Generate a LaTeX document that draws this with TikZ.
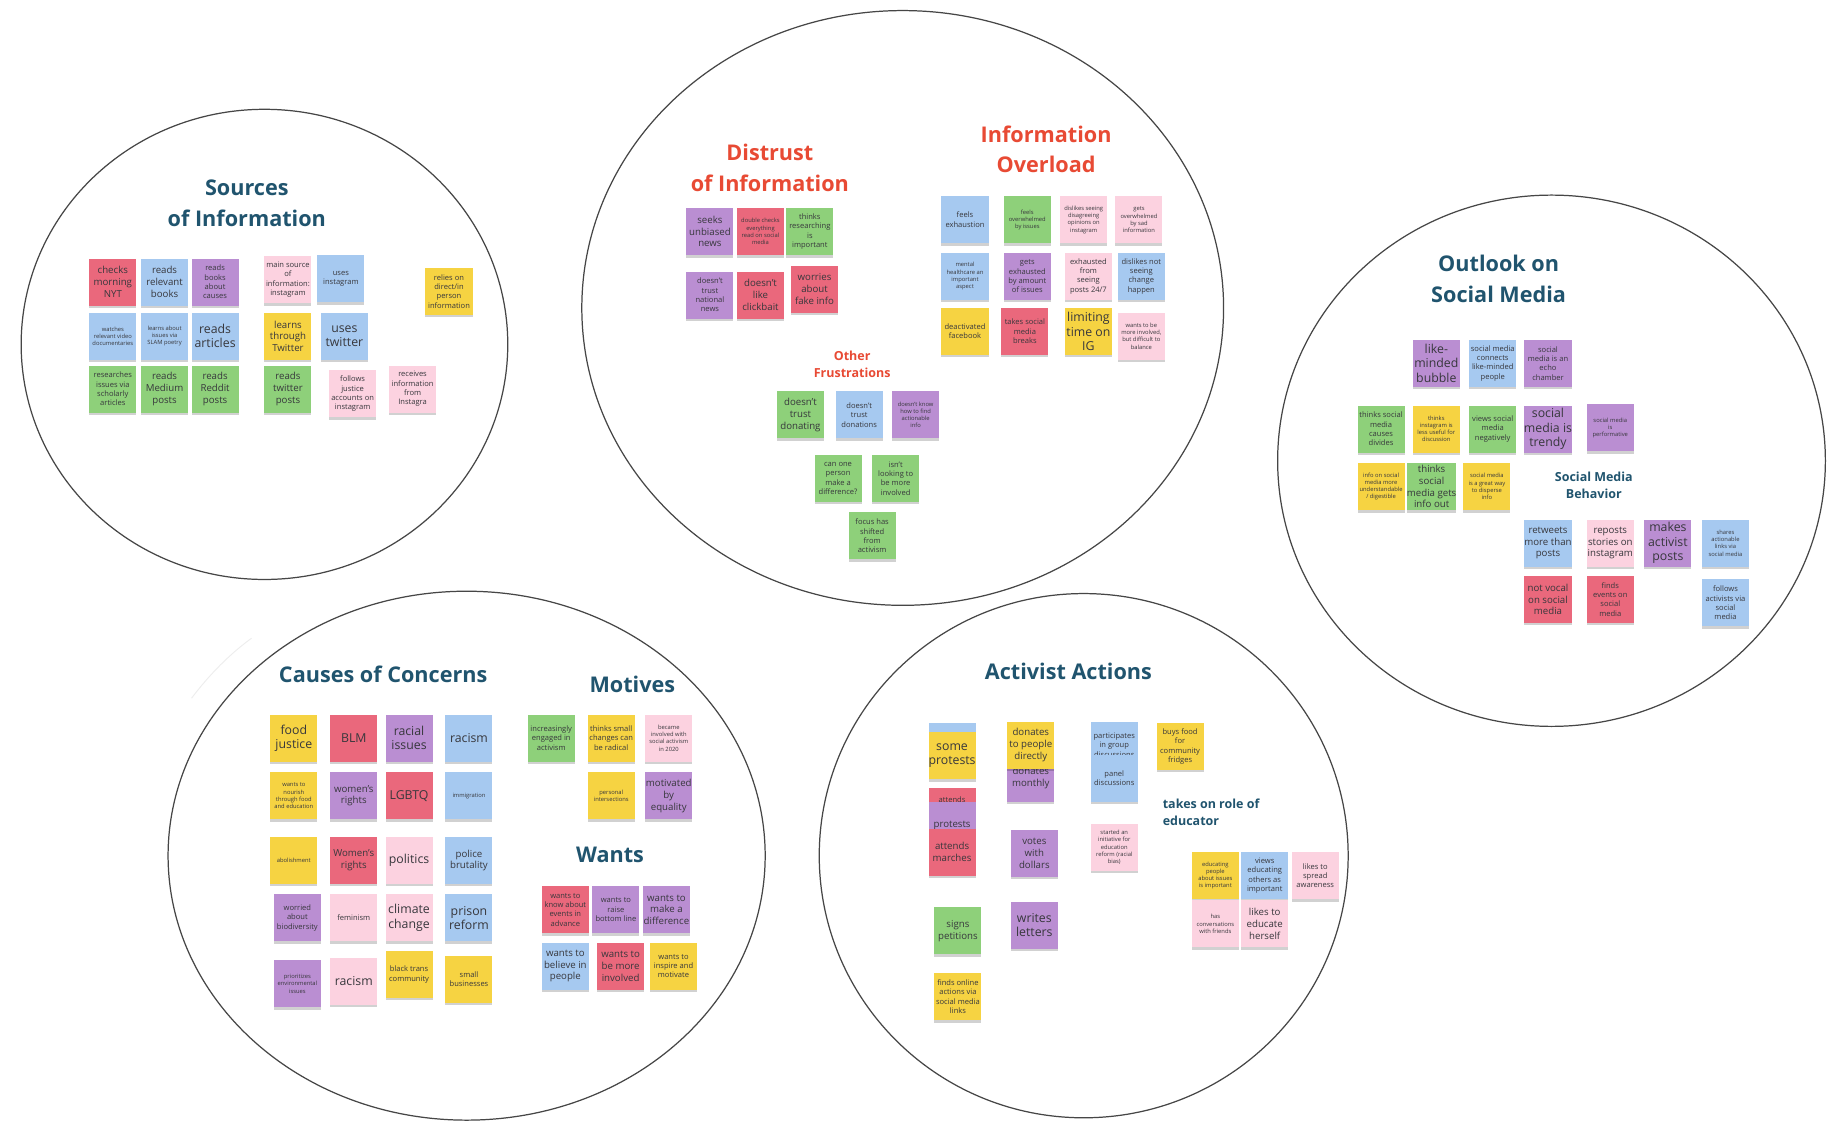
\documentclass[tikz,border=0pt]{standalone}
\usepackage{fontspec}
\setmainfont{Open Sans}
\usepackage{tikz}
\usetikzlibrary{positioning,shadows}
\definecolor{stickyred}{RGB}{234,104,124}
\definecolor{stickyblue}{RGB}{166,201,240}
\definecolor{stickypurple}{RGB}{186,142,210}
\definecolor{stickygreen}{RGB}{142,208,122}
\definecolor{stickyyellow}{RGB}{246,211,66}
\definecolor{stickypink}{RGB}{252,210,224}
\definecolor{notetext}{RGB}{55,55,60}
\definecolor{headblue}{RGB}{32,84,110}
\definecolor{headred}{RGB}{232,74,52}
\definecolor{ringgray}{RGB}{70,70,70}

\begin{document}
\begin{tikzpicture}[
    x=0.0235cm, y=-0.0235cm,
    note/.style={minimum size=0.94cm, inner sep=0pt, align=center, text=notetext,
        drop shadow={shadow xshift=0pt, shadow yshift=-1.4pt, opacity=0.18, fill=black}},
    nred/.style={note, fill=stickyred},
    nblue/.style={note, fill=stickyblue},
    npurple/.style={note, fill=stickypurple},
    ngreen/.style={note, fill=stickygreen},
    nyellow/.style={note, fill=stickyyellow},
    npink/.style={note, fill=stickypink},
    fL/.style={font=\fontsize{7}{8.2}\selectfont},
    fM/.style={font=\fontsize{5.5}{6.7}\selectfont},
    fS/.style={font=\fontsize{4.3}{5.3}\selectfont},
    fX/.style={font=\fontsize{3.3}{4.1}\selectfont},
    ring/.style={draw=ringgray, line width=0.7pt},
    head/.style={font=\bfseries\fontsize{12.3}{17.5}\selectfont, text=headblue, align=center},
    headred/.style={head, text=headred},
    subhead/.style={font=\bfseries\fontsize{7.1}{10}\selectfont, text=headblue, align=center},
    subred/.style={subhead, text=headred}
]
\fill[white] (0,0) rectangle (1568,970);
\useasboundingbox (0,0) rectangle (1568,970);

% clusters
\draw[ring] (225,293) ellipse [x radius=207, y radius=200];
\draw[ring] (768,262) ellipse [x radius=273, y radius=253];
\draw[ring] (1320,392) ellipse [x radius=233, y radius=226];
\draw[ring] (397,728) ellipse [x radius=254, y radius=225];
\draw[ring] (922,728) ellipse [x radius=225, y radius=223];
\draw[black!7, line width=0.5pt] (214,543) .. controls (196,556) and (178,574) .. (163,594);

% sources of information
\node[head] (srcT) at (210,173) {Sources\\of Information};
\node[nred,fM] (s1) at (96,240) {checks\\morning\\NYT};
\node[nblue,fM] (s2) at (140,240) {reads\\relevant\\books};
\node[npurple,fS] (s3) at (183,240) {reads\\books\\about\\causes};
\node[nblue,fX] (s4) at (96,286) {watches\\relevant video\\documentaries};
\node[nblue,fX] (s5) at (140,286) {learns about\\issues via\\SLAM poetry};
\node[nblue,fL] (s6) at (183,286) {reads\\articles};
\node[ngreen,fS] (s7) at (96,331) {researches\\issues via\\scholarly\\articles};
\node[ngreen,fM] (s8) at (140,331) {reads\\Medium\\posts};
\node[ngreen,fM] (s9) at (183,331) {reads\\Reddit\\posts};
\node[npink,fS] (s10) at (245,238) {main source\\of\\information:\\instagram};
\node[nblue,fS] (s11) at (290,237) {uses\\instagram};
\node[nyellow,fM] (s12) at (245,286) {learns\\through\\Twitter};
\node[nblue,fL] (s13) at (293,286) {uses\\twitter};
\node[ngreen,fM] (s14) at (245,331) {reads\\twitter\\posts};
\node[npink,fS] (s15) at (300,335) {follows\\justice\\accounts on\\instagram};
\node[npink,fS] (s16) at (351,331) {receives\\information\\from\\Instagra};
\node[nyellow,fS] (s17) at (382,248) {relies on\\direct/in\\person\\information};

% distrust of information
\node[headred] (dstT) at (655,143) {Distrust\\of Information};
\node[npurple,fM] (d1) at (604,197) {seeks\\unbiased\\news};
\node[nred,fX] (d2) at (647,197) {double checks\\everything\\read on social\\media};
\node[ngreen,fS] (d3) at (689,197) {thinks\\researching\\is\\important};
\node[npurple,fS] (d4) at (604,251) {doesn't\\trust\\national\\news};
\node[nred,fM] (d5) at (647,251) {doesn't\\like\\clickbait};
\node[nred,fM] (d6) at (693,246) {worries\\about\\fake info};

% other frustrations
\node[subred] (othT) at (725,310) {Other\\Frustrations};
\node[ngreen,fM] (o1) at (681,353) {doesn't\\trust\\donating};
\node[nblue,fS] (o2) at (731,353) {doesn't\\trust\\donations};
\node[npurple,fX] (o3) at (779,353) {doesn't know\\how to find\\actionable\\info};
\node[ngreen,fS] (o4) at (713,407) {can one\\person\\make a\\difference?};
\node[ngreen,fS] (o5) at (762,407) {isn't\\looking to\\be more\\involved};
\node[ngreen,fS] (o6) at (742,456) {focus has\\shifted\\from\\activism};

% information overload
\node[headred] (ovlT) at (890,127) {Information\\Overload};
\node[nblue,fS] (i1) at (821,187) {feels\\exhaustion};
\node[ngreen,fX] (i2) at (874,187) {feels\\overwhelmed\\by issues};
\node[npink,fX] (i3) at (922,187) {dislikes seeing\\disagreeing\\opinions on\\instagram};
\node[npink,fX] (i4) at (969,187) {gets\\overwhelmed\\by sad\\information};
\node[nblue,fX] (i5) at (821,235) {mental\\healthcare an\\important\\aspect};
\node[npurple,fS] (i6) at (874,235) {gets\\exhausted\\by amount\\of issues};
\node[npink,fS] (i7) at (926,235) {exhausted\\from\\seeing\\posts 24/7};
\node[nblue,fS] (i8) at (971,235) {dislikes not\\seeing\\change\\happen};
\node[nyellow,fS] (i9) at (821,282) {deactivated\\facebook};
\node[nred,fS] (i10) at (872,282) {takes social\\media\\breaks};
\node[nyellow,fL] (i11) at (926,282) {limiting\\time on\\IG};
\node[npink,fX] (i12) at (971,286) {wants to be\\more involved,\\but difficult to\\balance};

% outlook on social media
\node[head] (outT) at (1275,237) {Outlook on\\Social Media};
\node[npurple,fL] (u1) at (1222,309) {like-\\minded\\bubble};
\node[nblue,fS] (u2) at (1270,309) {social media\\connects\\like-minded\\people};
\node[npurple,fS] (u3) at (1317,309) {social\\media is an\\echo\\chamber};
\node[ngreen,fS] (u4) at (1175,365) {thinks social\\media\\causes\\divides};
\node[nyellow,fX] (u5) at (1222,365) {thinks\\instagram is\\less useful for\\discussion};
\node[ngreen,fS] (u6) at (1270,365) {views social\\media\\negatively};
\node[npurple,fL] (u7) at (1317,365) {social\\media is\\trendy};
\node[npurple,fX] (u8) at (1370,364) {social media\\is\\performative};
\node[nyellow,fX] (u9) at (1175,414) {info on social\\media more\\understandable\\/ digestible};
\node[ngreen,fM] (u10) at (1218,414) {thinks\\social\\media gets\\info out};
\node[nyellow,fX] (u11) at (1265,414) {social media\\is a great way\\to disperse\\info};

% social media behavior
\node[subhead] (behT) at (1356,413) {Social Media\\Behavior};
\node[nblue,fM] (b1) at (1317,462) {retweets\\more than\\posts};
\node[npink,fM] (b2) at (1370,462) {reposts\\stories on\\instagram};
\node[npurple,fL] (b3) at (1419,462) {makes\\activist\\posts};
\node[nblue,fX] (b4) at (1468,462) {shares\\actionable\\links via\\social media};
\node[nred,fM] (b5) at (1317,510) {not vocal\\on social\\media};
\node[nred,fS] (b6) at (1370,510) {finds\\events on\\social\\media};
\node[nblue,fS] (b7) at (1468,513) {follows\\activists via\\social\\media};

% causes of concerns
\node[head] (cauT) at (326,574) {Causes of Concerns};
\node[nyellow,fL] (c1) at (250,628) {food\\justice};
\node[nred,fL] (c2) at (301,628) {BLM};
\node[npurple,fL] (c3) at (348,628) {racial\\issues};
\node[nblue,fL] (c4) at (399,628) {racism};
\node[nyellow,fX] (c5) at (250,677) {wants to\\nourish\\through food\\and education};
\node[npurple,fM] (c6) at (301,677) {women's\\rights};
\node[nred,fL] (c7) at (348,677) {LGBTQ};
\node[nblue,fX] (c8) at (399,677) {immigration};
\node[nyellow,fX] (c9) at (250,732) {abolishment};
\node[nred,fM] (c10) at (301,732) {Women's\\rights};
\node[npink,fL] (c11) at (348,732) {politics};
\node[nblue,fM] (c12) at (399,732) {police\\brutality};
\node[npurple,fS] (c13) at (253,781) {worried\\about\\biodiversity};
\node[npink,fS] (c14) at (301,781) {feminism};
\node[npink,fL] (c15) at (348,781) {climate\\change};
\node[nblue,fL] (c16) at (399,781) {prison\\reform};
\node[npurple,fX] (c17) at (253,837) {prioritizes\\environmental\\issues};
\node[npink,fL] (c18) at (301,835) {racism};
\node[nyellow,fS] (c19) at (348,829) {black trans\\community};
\node[nyellow,fS] (c20) at (399,833) {small\\businesses};

% motives
\node[head] (motT) at (538,582) {Motives};
\node[ngreen,fS] (m1) at (469,628) {increasingly\\engaged in\\activism};
\node[nyellow,fS] (m2) at (520,628) {thinks small\\changes can\\be radical};
\node[npink,fX] (m3) at (569,628) {became\\involved with\\social activism\\in 2020};
\node[nyellow,fX] (m4) at (520,677) {personal\\intersections};
\node[npurple,fM] (m5) at (569,677) {motivated\\by\\equality};

% wants
\node[head] (wntT) at (519,727) {Wants};
\node[nred,fS] (w1) at (481,774) {wants to\\know about\\events in\\advance};
\node[npurple,fS] (w2) at (524,774) {wants to\\raise\\bottom line};
\node[npurple,fM] (w3) at (567,774) {wants to\\make a\\difference};
\node[nblue,fM] (w4) at (481,822) {wants to\\believe in\\people};
\node[nred,fM] (w5) at (528,822) {wants to\\be more\\involved};
\node[nyellow,fS] (w6) at (573,822) {wants to\\inspire and\\motivate};

% activist actions
\node[head] (actT) at (909,571) {Activist Actions};
\node[nblue] (a0) at (810,635) {};
\node[nyellow,fL] (a1) at (810,643) {some\\protests};
\node[npurple,fM] (a2) at (877,662) {donates\\monthly};
\node[nyellow,fM] (a3) at (877,634) {donates\\to people\\directly};
\node[nblue,fS] (a4) at (948,634) {participates\\in group\\discussions};
\node[nblue,fS] (a5) at (948,662) {panel\\discussions};
\node[nred] (a6) at (810,690) {};
\node[fS,text=notetext] (a6t) [below=2pt of a6.north] {attends};
\node[npurple,fM] (a7) at (810,702) {protests};
\node[nred,fM] (a8) at (810,725) {attends\\marches};
\node[npurple,fM] (a9) at (880,726) {votes\\with\\dollars};
\node[npink,fX] (a10) at (948,721) {started an\\initiative for\\education\\reform (racial\\bias)};
\node[ngreen,fM] (a11) at (815,792) {signs\\petitions};
\node[npurple,fL] (a12) at (880,787) {writes\\letters};
\node[nyellow,fS] (a13) at (815,848) {finds online\\actions via\\social media\\links};
\node[nyellow,fS] (a14) at (1004,635) {buys food\\for\\community\\fridges};

% educator
\node[subhead,align=left,anchor=west,inner sep=0pt] (eduT) at (989,691) {takes on role of\\educator};
\node[nyellow,fX] (e1) at (1034,745) {educating\\people\\about issues\\is important};
\node[nblue,fS] (e2) at (1076,745) {views\\educating\\others as\\important};
\node[npink,fS] (e3) at (1119,745) {likes to\\spread\\awareness};
\node[npink,fX] (e4) at (1034,786) {has\\conversations\\with friends};
\node[npink,fM] (e5) at (1076,786) {likes to\\educate\\herself};

\end{tikzpicture}
\end{document}
